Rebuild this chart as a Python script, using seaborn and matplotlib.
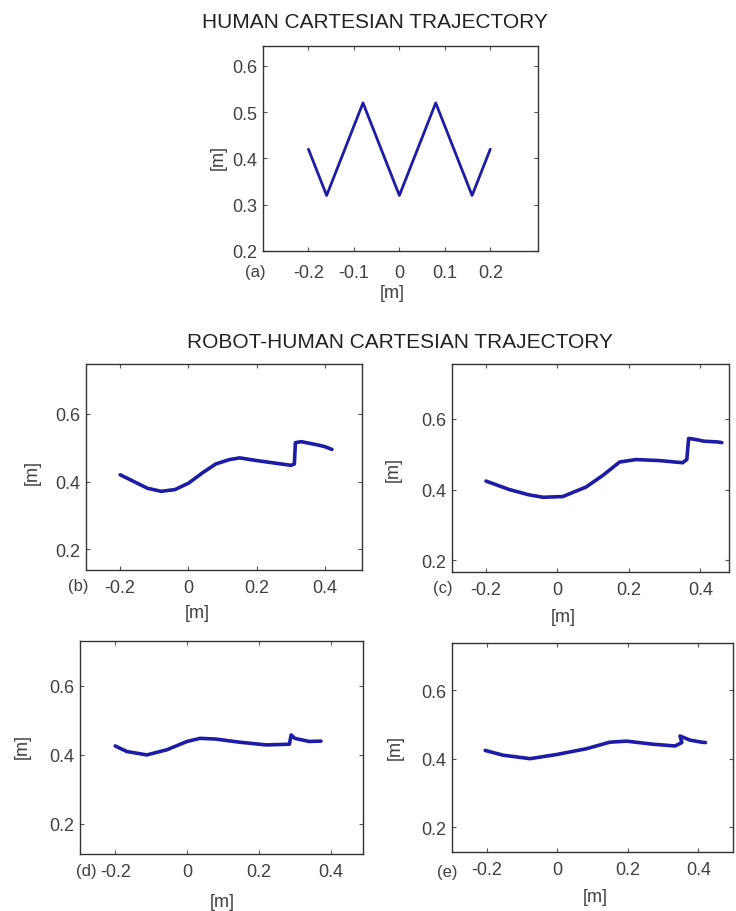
import matplotlib
matplotlib.use("Agg")
import matplotlib.pyplot as plt
import seaborn as sns
import pandas as pd
from matplotlib.ticker import FuncFormatter

# (a) human reference trajectory
human_x = [-0.2, -0.16, -0.08, 0.0, 0.08, 0.16, 0.2]
human_y = [0.42, 0.32, 0.52, 0.32, 0.52, 0.32, 0.42]

# (b)-(e) robot-human trajectories
b_x = [-0.2, -0.16, -0.12, -0.08, -0.04, 0.0, 0.04, 0.08, 0.12, 0.15, 0.2, 0.25, 0.3, 0.31, 0.313, 0.33, 0.35, 0.38, 0.4, 0.42]
b_y = [0.42, 0.40, 0.38, 0.371, 0.376, 0.395, 0.425, 0.452, 0.465, 0.47, 0.462, 0.455, 0.448, 0.452, 0.515, 0.518, 0.514, 0.508, 0.503, 0.495]

c_x = [-0.2, -0.135, -0.08, -0.04, 0.015, 0.08, 0.127, 0.174, 0.22, 0.286, 0.35, 0.362, 0.367, 0.386, 0.41, 0.447, 0.46]
c_y = [0.424, 0.40, 0.385, 0.378, 0.38, 0.407, 0.44, 0.478, 0.485, 0.482, 0.476, 0.485, 0.545, 0.542, 0.537, 0.535, 0.533]

d_x = [-0.2, -0.168, -0.112, -0.056, 0.0, 0.036, 0.08, 0.145, 0.22, 0.285, 0.29, 0.30, 0.34, 0.373]
d_y = [0.426, 0.41, 0.40, 0.415, 0.439, 0.448, 0.446, 0.437, 0.429, 0.431, 0.458, 0.448, 0.439, 0.44]

e_x = [-0.204, -0.153, -0.077, -0.002, 0.083, 0.149, 0.197, 0.272, 0.334, 0.353, 0.348, 0.376, 0.409, 0.42]
e_y = [0.424, 0.41, 0.40, 0.412, 0.429, 0.448, 0.451, 0.442, 0.437, 0.447, 0.466, 0.454, 0.448, 0.447]

W, H = 736, 912
sns.set_theme(style="white")
plt.rcParams["font.family"] = ["Liberation Sans", "DejaVu Sans"]
plt.rcParams["axes.unicode_minus"] = False

fig = plt.figure(figsize=(W / 100, H / 100), dpi=100)
line_color = "#1c1ca8"
txt_color = "#404040"
fs = 13


def px_axes(left, top, right, bottom):
    return fig.add_axes([left / W, 1 - bottom / H, (right - left) / W, (bottom - top) / H])


def style_ax(ax, xticks, yticks, xlim, ylim, xpad):
    ax.set_xlim(*xlim)
    ax.set_ylim(*ylim)
    ax.set_xticks(xticks)
    ax.set_yticks(yticks)
    fmt = FuncFormatter(lambda v, p: f"{v:g}")
    ax.xaxis.set_major_formatter(fmt)
    ax.yaxis.set_major_formatter(fmt)
    ax.tick_params(direction="in", length=3, width=0.8, top=True, right=True,
                   bottom=True, left=True, labelsize=fs, colors="#555555",
                   labelcolor=txt_color)
    ax.tick_params(axis="x", pad=xpad)
    ax.tick_params(axis="y", pad=4)
    for s in ax.spines.values():
        s.set_color("#333333")
        s.set_linewidth(1.0)
    ax.set_xlabel("")
    ax.set_ylabel("")


def draw(ax, xs, ys, lw):
    df = pd.DataFrame({"x": xs, "y": ys})
    sns.lineplot(data=df, x="x", y="y", sort=False, estimator=None,
                 color=line_color, linewidth=lw, ax=ax)


# (a)
ax_a = px_axes(263, 47, 538, 252)
draw(ax_a, human_x, human_y, 2.0)
style_ax(ax_a, [-0.2, -0.1, 0, 0.1, 0.2], [0.2, 0.3, 0.4, 0.5, 0.6], (-0.3, 0.305), (0.2, 0.643), 9.5)
fig.text(375 / W, 1 - 22 / H, "HUMAN CARTESIAN TRAJECTORY", ha="center", va="center",
         fontsize=15, color="#222222")
fig.text(255 / W, 1 - 273 / H, "(a)", ha="center", va="center", fontsize=fs - 1, color=txt_color)
fig.text(392 / W, 1 - 294 / H, "[m]", ha="center", va="center", fontsize=fs, color=txt_color)
fig.text(218 / W, 1 - 158 / H, "[m]", ha="center", va="center", fontsize=fs, color=txt_color, rotation=90)

fig.text(400 / W, 1 - 342 / H, "ROBOT-HUMAN CARTESIAN TRAJECTORY", ha="center", va="center",
         fontsize=15, color="#222222")

panels = [
    ("(b)", b_x, b_y, (86, 365, 362, 571), (-0.3, 0.508), (0.138, 0.748), (78, 587), (197, 613), (32, 473)),
    ("(c)", c_x, c_y, (452, 365, 729, 573), (-0.295, 0.48), (0.166, 0.756), (443, 588), (563, 617), (393, 470)),
    ("(d)", d_x, d_y, (80, 642, 363, 855), (-0.298, 0.49), (0.113, 0.73), (86, 872), (222, 903), (22, 747)),
    ("(e)", e_x, e_y, (452, 644, 733, 853), (-0.298, 0.498), (0.128, 0.737), (447, 873), (595, 898), (395, 748)),
]

for tag, xs, ys, box, xlim, ylim, tagpos, xlpos, ylpos in panels:
    ax = px_axes(*box)
    draw(ax, xs, ys, 2.6)
    style_ax(ax, [-0.2, 0, 0.2, 0.4], [0.2, 0.4, 0.6], xlim, ylim, 6.5)
    fig.text(tagpos[0] / W, 1 - tagpos[1] / H, tag, ha="center", va="center", fontsize=fs - 1, color=txt_color)
    fig.text(xlpos[0] / W, 1 - xlpos[1] / H, "[m]", ha="center", va="center", fontsize=fs, color=txt_color)
    fig.text(ylpos[0] / W, 1 - ylpos[1] / H, "[m]", ha="center", va="center", fontsize=fs,
             color=txt_color, rotation=90)

fig.savefig("out.png", dpi=100)
